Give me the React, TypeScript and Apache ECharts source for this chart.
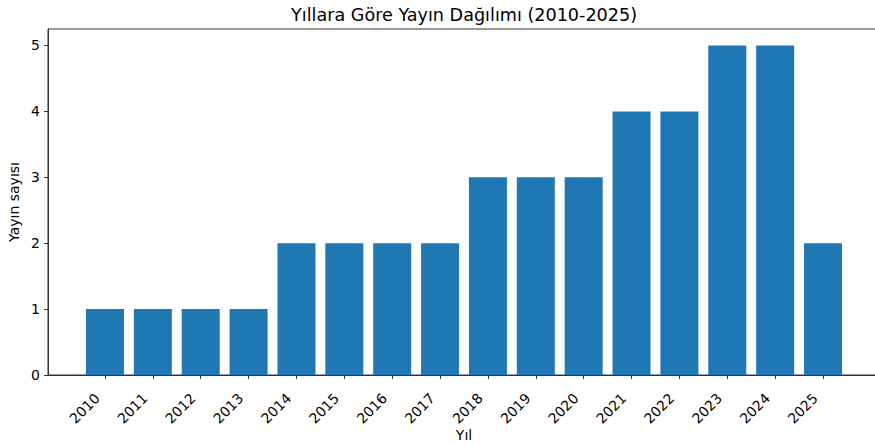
import React, { useEffect, useRef } from "react";
import * as echarts from "echarts";

const years = ["2010","2011","2012","2013","2014","2015","2016","2017","2018","2019","2020","2021","2022","2023","2024","2025"];
const counts = [1, 1, 1, 1, 2, 2, 2, 2, 3, 3, 3, 4, 4, 5, 5, 2];
const yTicks = [0, 1, 2, 3, 4, 5];
const titleText = "Yıllara Göre Yayın Dağılımı (2010-2025)";
const xName = "Yıl";
const yName = "Yayın sayısı";

const FONT = "DejaVu Sans";

export default function App() {
  const ref = useRef<HTMLDivElement>(null);
  useEffect(() => {
    if (!ref.current) return;
    const chart = echarts.init(ref.current, undefined, { renderer: "svg" });
    const idx = years.map((_, i) => i);
    chart.setOption({
      animation: false,
      backgroundColor: "#ffffff",
      textStyle: { fontFamily: FONT },
      graphic: [
        {
          type: "text",
          x: 464,
          y: 15,
          style: {
            text: titleText,
            fontFamily: FONT,
            fontSize: 17.6,
            fill: "#000",
            textAlign: "center",
            textVerticalAlign: "middle",
          },
        },
      ],
      grid: {
        left: 48, right: 10, top: 29, bottom: 69,
        show: true, borderColor: "#333", borderWidth: 1,
        containLabel: false, outerBoundsMode: "none",
      },
      xAxis: {
        type: "value",
        min: -1.19,
        max: 16.19,
        splitLine: { show: false },
        axisLine: { show: true, onZero: false, lineStyle: { color: "#333", width: 1 } },
        axisTick: { show: true, customValues: idx, length: 4, lineStyle: { color: "#333" } },
        axisLabel: {
          customValues: idx,
          rotate: 45,
          fontSize: 14,
          color: "#000",
          fontFamily: FONT,
          margin: 13,
          padding: [0, 11, 0, 0],
          formatter: (v: number) => years[Math.round(v)] ?? "",
        },
        name: xName,
        nameLocation: "middle",
        nameGap: 53,
        nameMoveOverlap: false,
        nameTextStyle: { fontSize: 14, color: "#000", fontFamily: FONT },
      },
      yAxis: {
        type: "value",
        min: 0,
        max: 5.25,
        splitLine: { show: false },
        axisLine: { show: true, onZero: false, lineStyle: { color: "#333", width: 1 } },
        axisTick: { show: true, customValues: yTicks, length: 4, lineStyle: { color: "#333" } },
        axisLabel: {
          customValues: yTicks,
          fontSize: 14,
          color: "#000",
          fontFamily: FONT,
          margin: 8,
        },
        name: yName,
        nameLocation: "middle",
        nameGap: 27,
        nameMoveOverlap: false,
        nameTextStyle: { fontSize: 14, color: "#000", fontFamily: FONT },
      },
      series: [
        {
          type: "bar",
          data: counts.map((c, i) => [i, c]),
          barWidth: 38,
          itemStyle: { color: "#1f77b4" },
        },
      ],
    });
    return () => chart.dispose();
  }, []);
  return (
    <div style={{ position: "absolute", left: 0, top: 0, width: 875, height: 444, overflow: "hidden" }}>
      <div ref={ref} style={{ width: 890, height: 444 }} />
    </div>
  );
}
